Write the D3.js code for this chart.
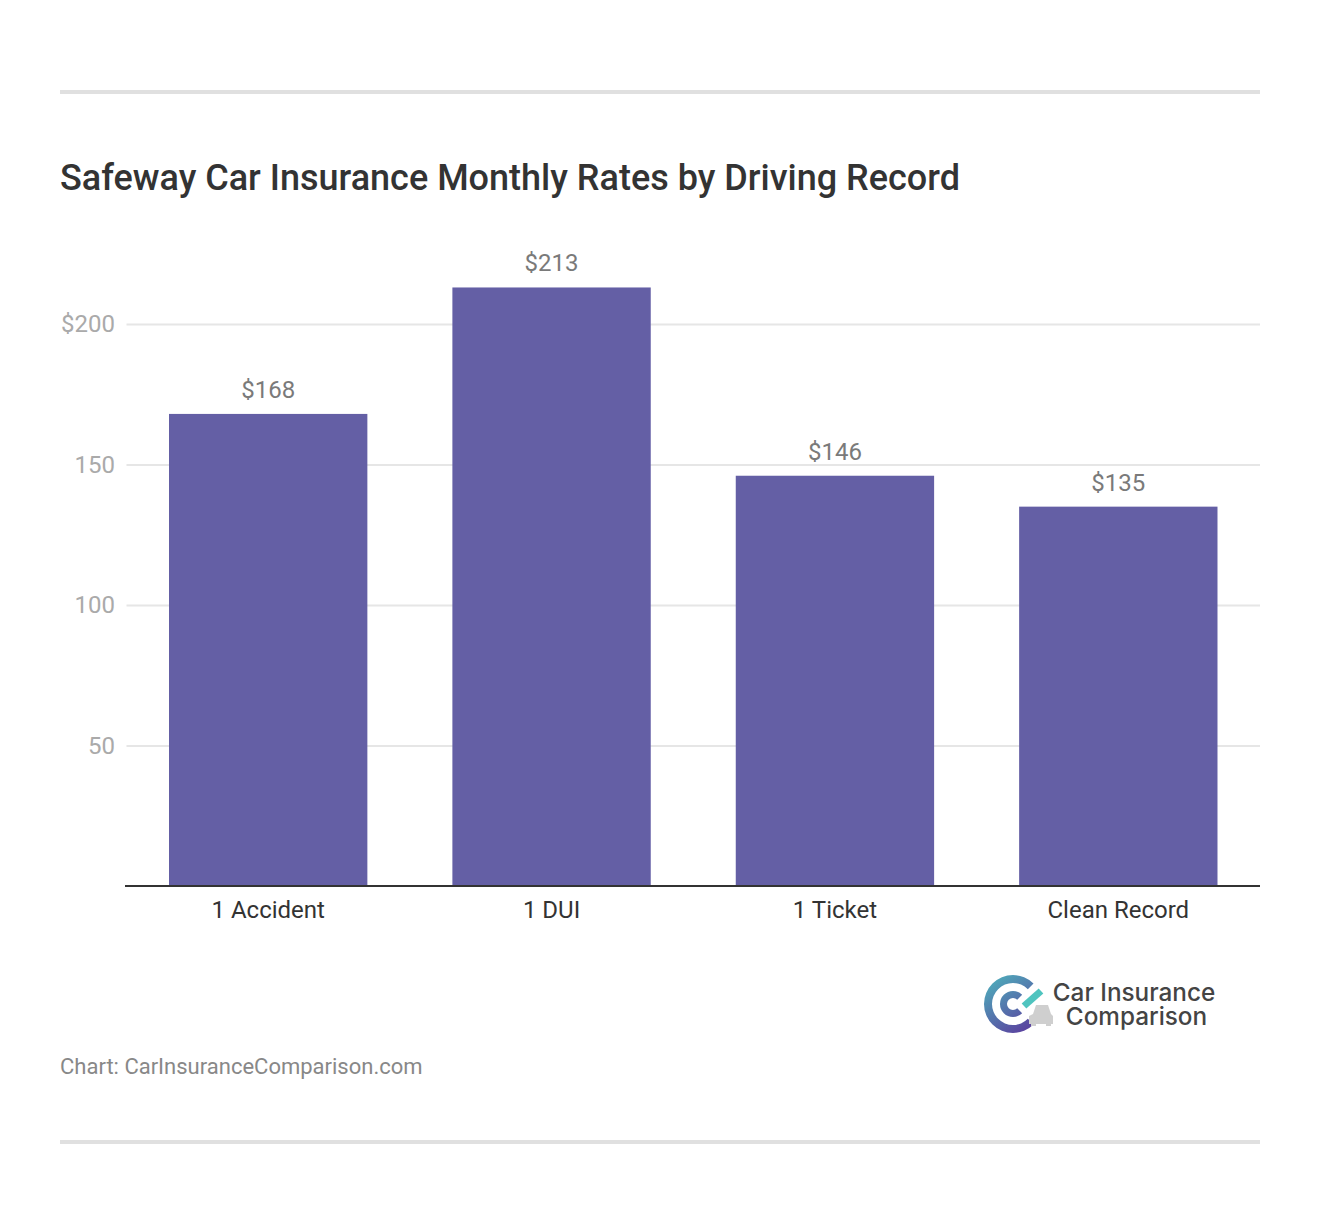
<!DOCTYPE html>
<html>
<head>
<meta charset="utf-8">
<script src="https://cdn.jsdelivr.net/npm/d3@7"></script>
<style>
  html, body { margin: 0; padding: 0; background: #fff; }
  text { font-family: Roboto, sans-serif; }
</style>
</head>
<body>
<div id="vis"></div>
<script>
// chart values
const CATEGORIES = ['1 Accident', '1 DUI', '1 Ticket', 'Clean Record'];
const RATES = [168, 213, 146, 135];
const Y_TICKS = [50, 100, 150, 200];

// setting up the basics
const FRAME_WIDTH = 1320;
const FRAME_HEIGHT = 1224;
const MARGINS = {left: 126.5, right: 60, top: 246, bottom: 338};

const FRAME = d3.select('#vis')
    .append('svg')
    .attr('width', FRAME_WIDTH)
    .attr('height', FRAME_HEIGHT)
    .style('display', 'block');

const BASELINE = FRAME_HEIGHT - MARGINS.bottom;

const X_SCALE = d3.scaleBand()
    .domain(CATEGORIES)
    .range([MARGINS.left, FRAME_WIDTH - MARGINS.right])
    .paddingInner(0.3)
    .paddingOuter(0.15);

// 200 sits at y=324, 0 at the baseline
const Y_SCALE = d3.scaleLinear()
    .domain([0, 200])
    .range([BASELINE, 324]);

// top and bottom rules
[92, 1142].forEach((y) => {
    FRAME.append('line')
        .attr('x1', 60).attr('x2', 1260)
        .attr('y1', y).attr('y2', y)
        .attr('stroke', '#e0e0e0')
        .attr('stroke-width', 4);
});

// title
FRAME.append('text')
    .attr('x', 60)
    .attr('y', 190)
    .attr('font-size', 36)
    .attr('font-weight', 500)
    .attr('fill', '#333333')
    .text('Safeway Car Insurance Monthly Rates by Driving Record');

// y axis with gridlines
const yAxis = FRAME.append('g')
    .attr('transform', 'translate(' + MARGINS.left + ',0)')
    .call(d3.axisLeft(Y_SCALE)
        .tickValues(Y_TICKS)
        .tickSize(-(FRAME_WIDTH - MARGINS.right - MARGINS.left))
        .tickPadding(11.5)
        .tickFormat((d) => d === 200 ? '$' + d : d));
yAxis.select('.domain').remove();
yAxis.selectAll('line').attr('stroke', '#e6e6e6').attr('stroke-width', 2);
yAxis.selectAll('text')
    .attr('font-size', 24)
    .attr('font-family', 'Roboto, sans-serif')
    .attr('fill', '#aaaaaa');

// bars
FRAME.selectAll('.bar')
    .data(CATEGORIES)
    .enter()
    .append('rect')
    .attr('class', 'bar')
    .attr('x', (d) => X_SCALE(d))
    .attr('width', X_SCALE.bandwidth())
    .attr('y', (d, i) => Y_SCALE(RATES[i]))
    .attr('height', (d, i) => BASELINE - Y_SCALE(RATES[i]))
    .attr('fill', '#645fa5');

// value labels
FRAME.selectAll('.value')
    .data(CATEGORIES)
    .enter()
    .append('text')
    .attr('class', 'value')
    .attr('x', (d) => X_SCALE(d) + X_SCALE.bandwidth() / 2)
    .attr('y', (d, i) => Y_SCALE(RATES[i]) - 16)
    .attr('text-anchor', 'middle')
    .attr('font-size', 24)
    .attr('fill', '#7a7a7a')
    .text((d, i) => '$' + RATES[i]);

// x axis
const xAxis = FRAME.append('g')
    .attr('transform', 'translate(0,' + BASELINE + ')')
    .call(d3.axisBottom(X_SCALE).tickSize(0).tickPadding(15));
xAxis.select('.domain')
    .attr('d', 'M125,0H1260')
    .attr('stroke', '#333333')
    .attr('stroke-width', 2);
xAxis.selectAll('text')
    .attr('font-size', 24)
    .attr('font-family', 'Roboto, sans-serif')
    .attr('fill', '#333333');

// source line
FRAME.append('text')
    .attr('x', 60)
    .attr('y', 1074)
    .attr('font-size', 22)
    .attr('fill', '#888888')
    .text('Chart: CarInsuranceComparison.com');

// logo
const LOGO = FRAME.append('g').attr('transform', 'translate(1013,1004)');
const GRAD = FRAME.append('defs').append('linearGradient')
    .attr('id', 'logoGrad')
    .attr('gradientUnits', 'userSpaceOnUse')
    .attr('x1', -24).attr('y1', -18)
    .attr('x2', 8).attr('y2', 28);
GRAD.append('stop').attr('offset', '0%').attr('stop-color', '#4fa3b8');
GRAD.append('stop').attr('offset', '100%').attr('stop-color', '#5a45a0');

const ringArc = (inner, outer) => d3.arc()
    .innerRadius(inner).outerRadius(outer)
    .startAngle(Math.PI * 0.75).endAngle(Math.PI * 2.25)();

// outer and inner C, open to the right
LOGO.append('path').attr('d', ringArc(21, 29)).attr('fill', 'url(#logoGrad)');
LOGO.append('path').attr('d', ringArc(6, 13)).attr('fill', 'url(#logoGrad)');

// small car, drawn under the tick stroke
const CAR = LOGO.append('g').attr('fill', '#cfcfcf');
CAR.append('path').attr('d', 'M20,10L23,1H35L38,10L40,12V20H16V12Z');
CAR.append('rect').attr('x', 18).attr('y', 19).attr('width', 5).attr('height', 3);
CAR.append('rect').attr('x', 33).attr('y', 19).attr('width', 5).attr('height', 3);

// tick stroke with a white edge where it crosses the car
LOGO.append('line')
    .attr('x1', 11).attr('y1', 2)
    .attr('x2', 28).attr('y2', -13)
    .attr('stroke', '#ffffff')
    .attr('stroke-width', 10);
LOGO.append('line')
    .attr('x1', 11).attr('y1', 2)
    .attr('x2', 28).attr('y2', -13)
    .attr('stroke', '#4fc4bf')
    .attr('stroke-width', 7);

[['Car Insurance', 1134, 1001], ['Comparison', 1136.5, 1025]].forEach((t) => {
    FRAME.append('text')
        .attr('x', t[1])
        .attr('y', t[2])
        .attr('text-anchor', 'middle')
        .attr('font-size', 24.3)
        .attr('font-weight', 500)
        .style('font-family', 'Inter, sans-serif')
        .attr('fill', '#444444')
        .text(t[0]);
});
</script>
</body>
</html>
